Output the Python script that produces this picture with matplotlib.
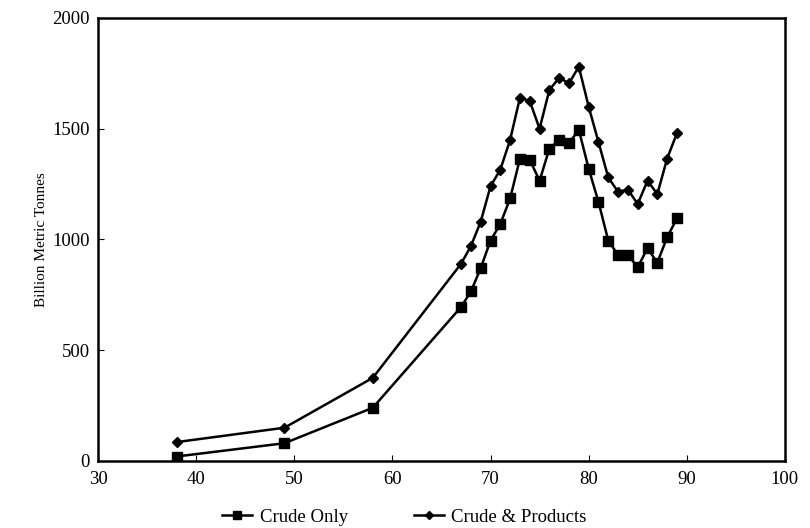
import matplotlib
matplotlib.use("Agg")
import matplotlib.pyplot as plt

years = [38, 49, 58, 67, 68, 69, 70, 71, 72, 73, 74, 75, 76, 77, 78, 79,
         80, 81, 82, 83, 84, 85, 86, 87, 88, 89]
crude_only = [20, 80, 240, 695, 765, 870, 995, 1070, 1185, 1365, 1360, 1265,
              1410, 1450, 1435, 1495, 1320, 1170, 995, 930, 930, 875, 960,
              895, 1010, 1095]
crude_products = [85, 150, 375, 890, 970, 1080, 1240, 1315, 1450, 1640, 1625,
                  1500, 1675, 1730, 1705, 1780, 1600, 1440, 1280, 1215, 1225,
                  1160, 1265, 1205, 1365, 1480]
x_ticks = [30, 40, 50, 60, 70, 80, 90, 100]
y_ticks = [0, 500, 1000, 1500, 2000]

plt.rcParams['font.family'] = ['Liberation Serif', 'DejaVu Serif']

fig = plt.figure(figsize=(8.1, 5.28), dpi=100)
ax = fig.add_axes([0.121, 0.127, 0.848, 0.839])

ax.plot(years, crude_only, color='black', lw=1.8, marker='s', ms=6.5,
        label='Crude Only')
ax.plot(years, crude_products, color='black', lw=1.8, marker='D', ms=5,
        label='Crude & Products')

ax.set_xlim(30, 100)
ax.set_ylim(0, 2000)
ax.set_xticks(x_ticks)
ax.set_yticks(y_ticks)
ax.tick_params(direction='in', length=4, width=0.8, labelsize=13.5)
ax.tick_params(axis='x', pad=7)
ax.tick_params(axis='y', pad=6)
for s in ax.spines.values():
    s.set_linewidth(1.8)
ax.set_ylabel('Billion Metric Tonnes', fontsize=11)
ax.yaxis.set_label_coords(-0.073, 0.5)

leg = ax.legend(loc='upper center', bbox_to_anchor=(0.446, -0.07), ncol=2,
                frameon=False, fontsize=13.5, handlelength=1.6,
                columnspacing=3.5, handletextpad=0.4, markerscale=0.8)

fig.savefig('out.png', dpi=100)
